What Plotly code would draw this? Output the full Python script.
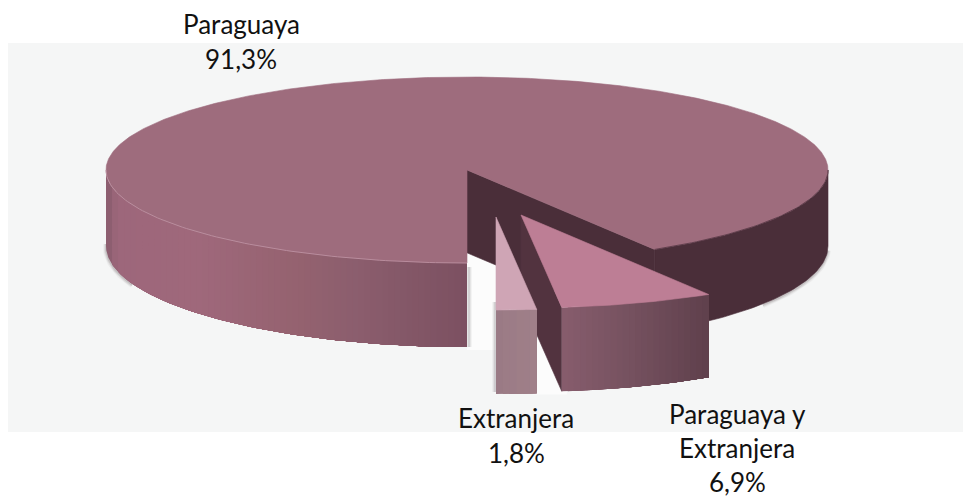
import math
import plotly.graph_objects as go

# ---- data ----
categories = ["Paraguaya", "Extranjera", "Paraguaya y Extranjera"]
shares = [91.3, 1.8, 6.9]
label_lines = [["Paraguaya"], ["Extranjera"], ["Paraguaya y", "Extranjera"]]

# ---- drawing geometry (pixels of the 963x499 canvas) ----
CX, CY, RX, RY = 467, 170, 361, 93
DEPTH_SIDE, DEPTH_FRONT = 76, 84
APEX = {"Paraguaya": (CX, CY), "Extranjera": (496, 217), "Paraguaya y Extranjera": (521, 215)}
LABEL_POS = {"Paraguaya": (241, 24, 35), "Extranjera": (516, 418, 35), "Paraguaya y Extranjera": (737, 414, 34)}
TOP_COL = {"Paraguaya": "#9e6c7d", "Extranjera": "#cfa5b5", "Paraguaya y Extranjera": "#bd7e95"}
BG = "#f5f6f6"
FONT = "Lato"

# sector angles: clockwise on screen, starting at the front of the pie
sweep = {c: v / sum(shares) * 360 for c, v in zip(categories, shares)}
t_ext = (0, sweep["Extranjera"])
t_pye = (t_ext[1], t_ext[1] + sweep["Paraguaya y Extranjera"])
t_par = (t_pye[1], 360)
SPAN = {"Paraguaya": t_par, "Extranjera": t_ext, "Paraguaya y Extranjera": t_pye}


def rim(apex, t):
    a = math.radians(t)
    return apex[0] + RX * math.sin(a), apex[1] + RY * math.cos(a)


def depth(t):
    return DEPTH_SIDE + (DEPTH_FRONT - DEPTH_SIDE) * abs(math.cos(math.radians(t)))


def arc(apex, t0, t1, step=1.0):
    n = max(2, int(abs(t1 - t0) / step) + 1)
    return [t0 + (t1 - t0) * i / (n - 1) for i in range(n)]


def hex2rgb(h):
    return tuple(int(h[i:i + 2], 16) for i in (1, 3, 5))


def ramp(stops, u):
    for (u0, c0), (u1, c1) in zip(stops, stops[1:]):
        if u <= u1:
            f = (u - u0) / (u1 - u0)
            a, b = hex2rgb(c0), hex2rgb(c1)
            return "rgb(%d,%d,%d)" % tuple(round(p + (q - p) * f) for p, q in zip(a, b))
    return stops[-1][1]


fig = go.Figure()


def poly(pts, color, opacity=1.0, edge=0.6):
    x, y = zip(*pts)
    fig.add_trace(go.Scatter(
        x=list(x) + [x[0]], y=list(y) + [y[0]], mode="lines", fill="toself", fillcolor=color,
        line=dict(color=color, width=edge), opacity=opacity,
        hoverinfo="skip", showlegend=False))


def line(pts, color, width, opacity=1.0):
    x, y = zip(*pts)
    fig.add_trace(go.Scatter(x=list(x), y=list(y), mode="lines",
                             line=dict(color=color, width=width), opacity=opacity,
                             hoverinfo="skip", showlegend=False))


def rim_pts(apex, t0, t1, drop=False, extra=0, step=1.0):
    out = []
    for t in arc(apex, t0, t1, step):
        x, y = rim(apex, t)
        out.append((x, y + (depth(t) + extra if drop else 0)))
    return out


def side(apex, t0, t1, stops, px=6.0):
    """Outer wall of a slice: overlapping strips of equal screen width, painted in order."""
    s0, s1 = math.sin(math.radians(t0)), math.sin(math.radians(t1))
    n = max(1, int(abs(s1 - s0) * RX / px))
    for i in range(n):
        a = math.degrees(math.asin(s0 + (s1 - s0) * i / n))
        if t0 >= 180:
            a = (a + 360) % 360
        if i == 0:
            a = t0
        top = rim_pts(apex, a, t1, step=0.5)
        bot = list(reversed(rim_pts(apex, a, t1, drop=True, step=0.5)))
        poly(top + bot, ramp(stops, (i + 0.5) / n), edge=0)


def wedge_top(cat):
    apex = APEX[cat]
    t0, t1 = SPAN[cat]
    poly([apex] + rim_pts(apex, t0, t1, step=0.5), TOP_COL[cat])


def cut_face(apex, t, color):
    p = rim(apex, t)
    d = depth(t)
    poly([apex, p, (p[0], p[1] + d), (apex[0], apex[1] + d)], color)


# panel behind the picture
poly([(8, 43), (963, 43), (963, 432), (8, 432)], BG, edge=0)

# bright gaps between the pulled-out slices
main_ap, ext_ap, pye_ap = APEX["Paraguaya"], APEX["Extranjera"], APEX["Paraguaya y Extranjera"]
gap_b = rim(main_ap, 0)[1] + DEPTH_FRONT
poly([(CX, 250), (ext_ap[0], 250), (ext_ap[0], gap_b + 3), (CX, gap_b + 3)], "#fcfcfc", edge=0)
e_r = rim(ext_ap, t_ext[1])
poly([(e_r[0] - 4, e_r[1]), (e_r[0] + 30, e_r[1]), (e_r[0] + 30, e_r[1] + DEPTH_FRONT + 1),
      (e_r[0] - 4, e_r[1] + DEPTH_FRONT + 1)], "#fcfcfc", edge=0)

# soft shadow beneath the large slice
for w, op in ((6, 0.06), (4, 0.10), (2, 0.16)):
    line(rim_pts(main_ap, 268, 292, drop=True, extra=1), "#554a50", w, op)
    line(rim_pts(main_ap, 55, 88, drop=True, extra=1), "#554a50", w, op)
    line([(CX + 2, rim(main_ap, 0)[1] + 4), (CX + 2, gap_b)], "#777077", w, op)
    line([(ext_ap[0] - 1, rim(ext_ap, 0)[1] - 8), (ext_ap[0] - 1, rim(ext_ap, 0)[1] + DEPTH_FRONT - 2)], "#777077", w, op)

# large slice
poly(rim_pts(main_ap, t_par[0], 90) + list(reversed(rim_pts(main_ap, t_par[0], 90, drop=True))), "#4a2e39")
cut_face(main_ap, t_par[0], "#4a2e39")
side(main_ap, 270, 360, [(0, "#875a6c"), (0.03, "#9d677b"), (0.26, "#9f687b"), (0.54, "#94626f"),
                         (0.68, "#8c5e6e"), (0.87, "#825666"), (1, "#7c5061")])
wedge_top("Paraguaya")
line(rim_pts(main_ap, 270, 360), "#c196a6", 1, 0.8)
line(rim_pts(main_ap, t_par[0], 90), "#3e2430", 1, 0.6)

# Paraguaya y Extranjera
cut_face(pye_ap, t_pye[0], "#52333f")
side(pye_ap, t_pye[0], t_pye[1], [(0, "#875d6d"), (0.5, "#74505e"), (1, "#5f404c")])
wedge_top("Paraguaya y Extranjera")

# Extranjera
side(ext_ap, t_ext[0], t_ext[1], [(0, "#9a7a85"), (1, "#a08089")])
wedge_top("Extranjera")

# labels
for cat, val, lines_ in zip(categories, shares, label_lines):
    x0, y0, dy = LABEL_POS[cat]
    texts = list(lines_) + [f"{val:.1f}%".replace(".", ",")]
    for i, txt in enumerate(texts):
        fig.add_annotation(x=x0, y=y0 + i * dy, text=txt, showarrow=False, xanchor="center", yanchor="middle",
                           borderpad=0, font=dict(family=FONT, size=26, color="#111111"))

fig.update_layout(
    width=963, height=499, autosize=False, margin=dict(l=0, r=0, t=0, b=0),
    paper_bgcolor="#ffffff", plot_bgcolor="#ffffff", showlegend=False,
    xaxis=dict(range=[0, 963], visible=False, fixedrange=True),
    yaxis=dict(range=[499, 0], visible=False, fixedrange=True),
)
fig.write_html("out.html", config={"displayModeBar": False},
               post_script="document.body.style.margin='0';")
